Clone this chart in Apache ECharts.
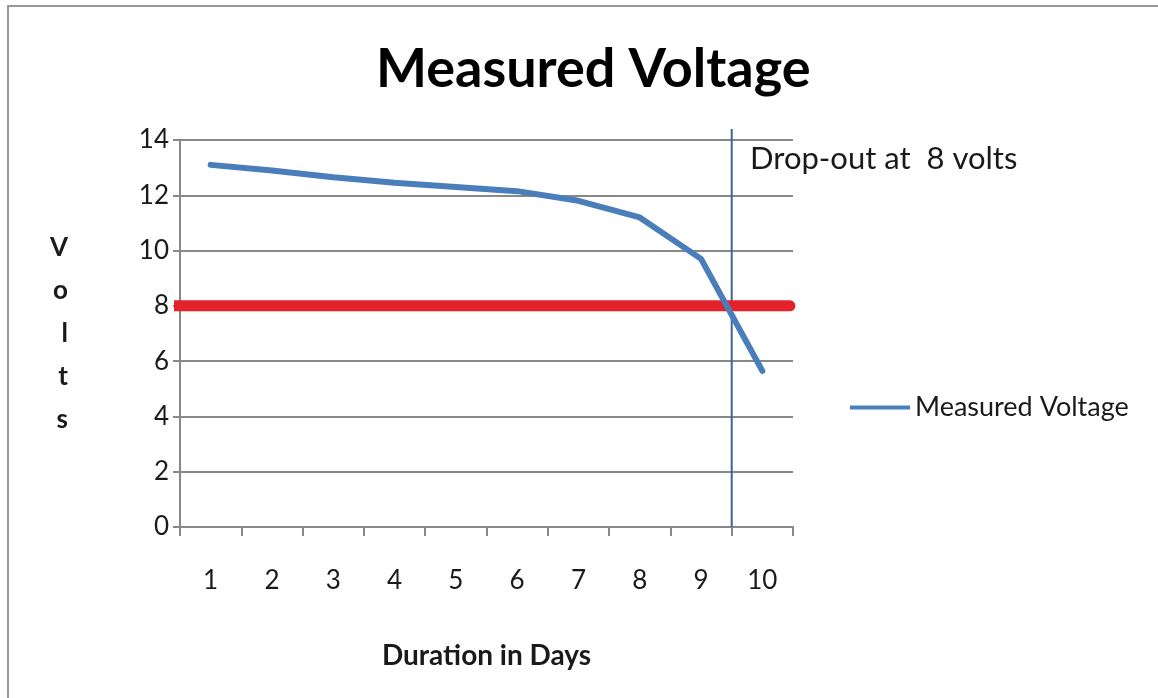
<!DOCTYPE html>
<html>
<head>
<meta charset="utf-8">
<script src="https://cdn.jsdelivr.net/npm/echarts@6/dist/echarts.min.js"></script>
<style>
  html, body { margin: 0; padding: 0; background: #fff; }
  #chart { width: 1158px; height: 698px; }
</style>
</head>
<body>
<div id="chart"></div>
<script>
// days on the x axis
var days = ['1', '2', '3', '4', '5', '6', '7', '8', '9', '10'];
// measured voltage per day
var voltage = [13.1, 12.9, 12.65, 12.45, 12.3, 12.15, 11.8, 11.2, 9.7, 5.65];
// y axis range
var yMin = 0, yMax = 14, yStep = 2;
// drop-out threshold (volts) and the span of the red line along the day axis
var dropoutVolts = 8;
var dropoutSpan = [-0.28, 9.95];
// vertical marker sits on the boundary between day 9 and day 10
var markerDay = 9;
var markerRange = [0, 14.4];

var font = 'Lato, "Liberation Sans", sans-serif';
var textColor = '#1a1a1a';
var myChart = echarts.init(document.getElementById('chart'));

var option = {
  backgroundColor: '#fff',
  animation: false,
  title: {
    text: 'Measured Voltage',
    left: 371,
    top: 38,
    textStyle: { fontFamily: font, fontSize: 54, fontWeight: 'bold', color: '#000' }
  },
  legend: {
    data: ['Measured Voltage'],
    icon: 'rect',
    left: 845,
    top: 389,
    itemWidth: 60,
    itemHeight: 4,
    itemGap: 6,
    textStyle: { fontFamily: font, fontSize: 27, color: textColor }
  },
  grid: { left: 180, right: 365, top: 140, bottom: 171 },
  xAxis: [{
    type: 'category',
    data: days,
    boundaryGap: true,
    name: 'Duration in Days',
    nameLocation: 'middle',
    nameGap: 115,
    nameTextStyle: { fontFamily: font, fontSize: 28, fontWeight: 'bold', color: textColor },
    axisLine: { lineStyle: { color: '#888', width: 2 } },
    axisTick: { show: true, length: 9, lineStyle: { color: '#888', width: 2 } },
    axisLabel: { margin: 41, fontFamily: font, fontSize: 26, color: textColor },
    splitLine: { show: false }
  }, {
    // hidden helper axis for the drop-out markers
    type: 'value',
    min: 0,
    max: days.length,
    show: false
  }],
  yAxis: {
    type: 'value',
    min: yMin,
    max: yMax,
    interval: yStep,
    name: 'V\no\nl\nt\ns',
    nameLocation: 'middle',
    nameRotate: 0,
    nameGap: 112,
    nameTextStyle: { fontFamily: font, fontSize: 26, fontWeight: 'bold', color: textColor, lineHeight: 43 },
    axisLine: { show: true, lineStyle: { color: '#888', width: 2 } },
    axisTick: { show: true, length: 7, lineStyle: { color: '#888', width: 2 } },
    axisLabel: { margin: 11, fontFamily: font, fontSize: 26, color: textColor },
    splitLine: { lineStyle: { color: '#888', width: 2 } }
  },
  graphic: [{
    type: 'rect',
    shape: { x: 8, y: 6, width: 1200, height: 800 },
    style: { fill: 'none', stroke: '#999', lineWidth: 2 },
    silent: true
  }, {
    type: 'text',
    left: 750,
    top: 143,
    style: { text: 'Drop-out at  8 volts', fontFamily: font, fontSize: 31, fill: textColor }
  }],
  series: [{
    name: 'marker',
    type: 'line',
    xAxisIndex: 1,
    data: [[markerDay, markerRange[0]], [markerDay, markerRange[1]]],
    symbol: 'none',
    clip: false,
    z: 1,
    lineStyle: { color: '#3e6592', width: 2 }
  }, {
    name: 'Drop-out',
    type: 'line',
    xAxisIndex: 1,
    data: [[dropoutSpan[0], dropoutVolts], [dropoutSpan[1], dropoutVolts]],
    symbol: 'none',
    clip: false,
    z: 2,
    lineStyle: { color: '#e3222b', width: 11, cap: 'round' }
  }, {
    name: 'Measured Voltage',
    type: 'line',
    data: voltage,
    symbol: 'none',
    z: 3,
    lineStyle: { color: '#4a7ebb', width: 6, cap: 'round', join: 'round' },
    itemStyle: { color: '#4a7ebb' }
  }]
};

myChart.setOption(option);
</script>
</body>
</html>
